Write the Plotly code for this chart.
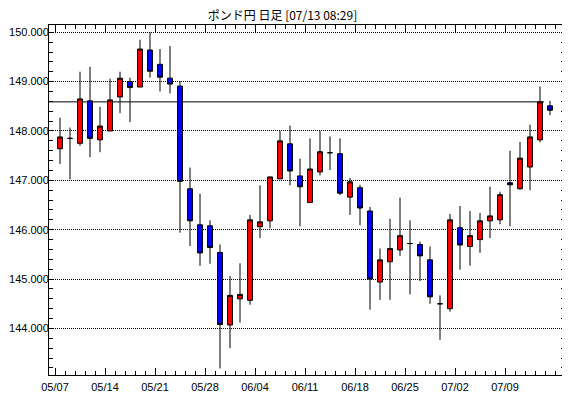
import plotly.graph_objects as go

# ---- data (GBP/JPY daily) ----
dates = [
    "05/07", "05/08", "05/09", "05/10", "05/11",
    "05/14", "05/15", "05/16", "05/17", "05/18",
    "05/21", "05/22", "05/23", "05/24", "05/25",
    "05/28", "05/29", "05/30", "05/31", "06/01",
    "06/04", "06/05", "06/06", "06/07", "06/08",
    "06/11", "06/12", "06/13", "06/14", "06/15",
    "06/18", "06/19", "06/20", "06/21", "06/22",
    "06/25", "06/26", "06/27", "06/28", "06/29",
    "07/02", "07/03", "07/04", "07/05", "07/06",
    "07/09", "07/10", "07/11", "07/12", "07/13",
]
opens = [
    147.64, 147.85, 147.75, 148.61, 147.82,
    148.00, 148.69, 149.00, 148.89, 149.64,
    149.35, 149.07, 148.91, 146.83, 146.10,
    146.08, 145.54, 144.07, 144.60, 144.57,
    146.06, 146.18, 147.03, 147.74, 147.09,
    146.55, 147.17, 147.56, 147.54, 146.66,
    146.85, 146.38, 144.94, 145.35, 145.59,
    145.72, 145.70, 145.39, 144.50, 144.40,
    146.04, 145.66, 145.80, 146.18, 146.20,
    146.95, 146.83, 147.27, 147.82, 148.51,
]
highs = [
    148.27, 148.07, 149.20, 149.30, 148.49,
    149.06, 149.20, 149.08, 149.85, 150.00,
    149.66, 149.72, 149.01, 147.26, 146.73,
    146.19, 145.70, 145.06, 145.32, 146.30,
    146.90, 147.07, 148.00, 148.11, 147.44,
    147.85, 148.00, 147.89, 147.85, 147.05,
    146.91, 146.46, 145.62, 146.22, 146.65,
    146.19, 145.76, 145.66, 144.67, 146.32,
    146.48, 146.38, 146.34, 146.87, 146.77,
    147.60, 147.78, 148.13, 148.90, 148.61,
]
lows = [
    147.33, 147.02, 147.70, 147.47, 147.57,
    148.00, 148.36, 148.18, 148.89, 149.08,
    148.80, 148.76, 145.94, 145.67, 145.27,
    145.31, 143.19, 143.60, 144.12, 144.48,
    145.83, 146.03, 147.03, 146.90, 146.07,
    146.55, 147.10, 147.21, 146.70, 146.30,
    146.09, 144.38, 144.58, 144.58, 145.47,
    144.69, 144.96, 144.50, 143.77, 144.34,
    145.19, 145.27, 145.53, 145.83, 146.11,
    146.07, 146.81, 146.80, 147.77, 148.32,
]
closes = [
    147.88, 147.85, 148.65, 147.85, 148.10,
    148.63, 149.07, 148.88, 149.66, 149.21,
    149.09, 148.95, 146.98, 146.18, 145.53,
    145.64, 144.08, 144.67, 144.69, 146.20,
    146.16, 147.07, 147.80, 147.19, 146.87,
    147.23, 147.58, 147.56, 146.74, 146.97,
    146.44, 145.00, 145.39, 145.62, 145.88,
    145.72, 145.47, 144.64, 144.50, 146.20,
    145.69, 145.88, 146.18, 146.28, 146.71,
    146.91, 147.45, 147.88, 148.59, 148.42,
]
week_labels = ["05/07", "05/14", "05/21", "05/28", "06/04",
               "06/11", "06/18", "06/25", "07/02", "07/09"]
title_text = "ポンド円 日足 [07/13 08:29]"

# ---- derived positions ----
x = list(range(len(dates)))
tickvals = [dates.index(d) - 0.5 for d in week_labels]
ref_level = closes[-2]
x_range = [-1.1, len(dates) + 0.5]
y_range = [143.057, 150.147]

fig = go.Figure(
    go.Candlestick(
        x=x, open=opens, high=highs, low=lows, close=closes,
        increasing=dict(fillcolor="#FF0000", line=dict(color="black", width=1)),
        decreasing=dict(fillcolor="#0000FF", line=dict(color="black", width=1)),
        whiskerwidth=0,
        hoverinfo="skip",
        showlegend=False,
    )
)

fig.add_shape(
    type="line", xref="x", yref="y",
    x0=x_range[0], x1=x[-2] + 0.4, y0=ref_level, y1=ref_level,
    line=dict(color="black", width=1), layer="below",
)

CLEAR = "rgba(0,0,0,0)"

# page body has an 8px margin, so the figure is sized/offset to compensate
W, H = 562, 390
fig.update_layout(
    width=W, height=H,
    margin=dict(l=41, r=5, t=17, b=23, autoexpand=False),
    paper_bgcolor="white", plot_bgcolor="white",
    font=dict(family="Liberation Sans, Arial, sans-serif", size=11, color="black"),
    title=dict(
        text=title_text, x=274.5 / W, xanchor="center",
        y=1 - 8 / H, yanchor="middle", yref="container",
        font=dict(family="Noto Sans CJK JP, sans-serif", size=12, color="black"),
    ),
    xaxis=dict(
        range=x_range, tickmode="array", tickvals=tickvals, ticktext=week_labels,
        ticks="inside", ticklen=7, tickcolor="black",
        showline=True, linecolor="black", mirror="allticks",
        showgrid=True, gridcolor=CLEAR, zerolinecolor=CLEAR,
        ticklabelstandoff=2,
        rangeslider=dict(visible=False),
        minor=dict(tickmode="linear", tick0=-0.5, dtick=1, ticks="inside",
                   ticklen=4, tickcolor="black", showgrid=False),
    ),
    yaxis=dict(
        range=y_range, tickmode="linear", tick0=0, dtick=1,
        tickformat=".3f",
        ticks="inside", ticklen=4, tickcolor="black",
        showline=True, linecolor="black", mirror="allticks",
        showgrid=True, gridcolor="black", griddash="1px,1px",
        zerolinecolor=CLEAR,
        ticklabelstandoff=-3,
        minor=dict(tickmode="linear", tick0=0, dtick=0.2, ticks="inside",
                   ticklen=4, tickcolor="black", showgrid=False),
    ),
)

fig.write_html("out.html")
